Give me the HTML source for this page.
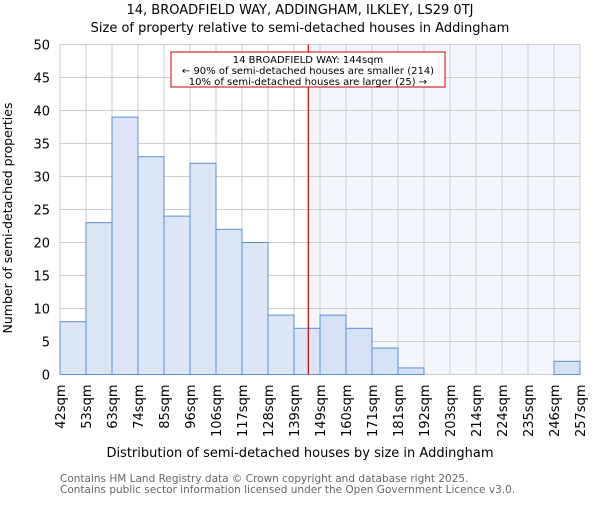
<!DOCTYPE html>
<html><head><meta charset="utf-8"><style>body{margin:0;background:#fff}svg{font-family:"DejaVu Sans","Liberation Sans",sans-serif}</style></head>
<body>
<svg id="chart" width="600" height="500">
<text x="300" y="14" text-anchor="middle" font-size="13">14, BROADFIELD WAY, ADDINGHAM, ILKLEY, LS29 0TJ</text>
<text x="300" y="32" text-anchor="middle" font-size="13">Size of property relative to semi-detached houses in Addingham</text>
<g id="plot"></g>
<text x="300" y="457" text-anchor="middle" font-size="13">Distribution of semi-detached houses by size in Addingham</text>
<text transform="translate(12,218) rotate(-90)" text-anchor="middle" font-size="12.5">Number of semi-detached properties</text>
<text x="60" y="482" font-size="10.5" fill="#666">Contains HM Land Registry data © Crown copyright and database right 2025.</text>
<text x="60" y="493" font-size="10.5" fill="#666">Contains public sector information licensed under the Open Government Licence v3.0.</text>
</svg>
<script>
const categories=["42sqm","53sqm","63sqm","74sqm","85sqm","96sqm","106sqm","117sqm","128sqm","139sqm","149sqm","160sqm","171sqm","181sqm","192sqm","203sqm","214sqm","224sqm","235sqm","246sqm","257sqm"];
const counts=[8,23,39,33,24,32,22,20,9,7,9,7,4,1,0,0,0,0,0,2];
const yTicks=[0,5,10,15,20,25,30,35,40,45,50];
const markerBin=9.55;
const NS="http://www.w3.org/2000/svg";
const g=document.getElementById('plot');
const L=60,R=580,T=44.5,B=374.5,yMax=50;
const bw=(R-L)/counts.length;
const xs=i=>L+i*bw, ys=v=>B-(v/yMax)*(B-T);
function mk(t,a){const e=document.createElementNS(NS,t);for(const k in a)e.setAttribute(k,a[k]);g.appendChild(e);return e;}
const mx=xs(markerBin);
let e=mk('rect',{x:mx,y:T,width:R-mx,height:B-T,fill:'#f3f6fd'});


yTicks.forEach(v=>{let l=mk('line',{x1:L,x2:R,y1:ys(v),y2:ys(v),stroke:'#ccc'});


let t=mk('text',{x:L-10,y:ys(v)+5,'text-anchor':'end','font-size':13});t.textContent=v;

});
categories.forEach((c,i)=>{let l=mk('line',{x1:xs(i),x2:xs(i),y1:T,y2:B,stroke:'#ccc'});


let t=mk('text',{transform:`translate(${xs(i)+5},${B+10}) rotate(-90)`,'text-anchor':'end','font-size':13});t.textContent=c;

});
counts.forEach((v,i)=>{if(v<=0)return;let r=mk('rect',{x:xs(i),y:ys(v),width:bw,height:B-ys(v),fill:(i+0.5>markerBin)?'#d5e1f4':'#dce6f5',stroke:'#5b8fd6','stroke-width':1});

});
e=mk('line',{x1:mx,x2:mx,y1:T,y2:B,stroke:'#c00','stroke-width':1.2});


e=mk('rect',{x:171,y:52,width:274,height:35,fill:'#fff',stroke:'#c00'});


["14 BROADFIELD WAY: 144sqm","← 90% of semi-detached houses are smaller (214)","10% of semi-detached houses are larger (25) →"].forEach((s,k)=>{let t=mk('text',{x:308,y:63+k*11,'text-anchor':'middle','font-size':10});t.textContent=s;

});
</script>
</body></html>
